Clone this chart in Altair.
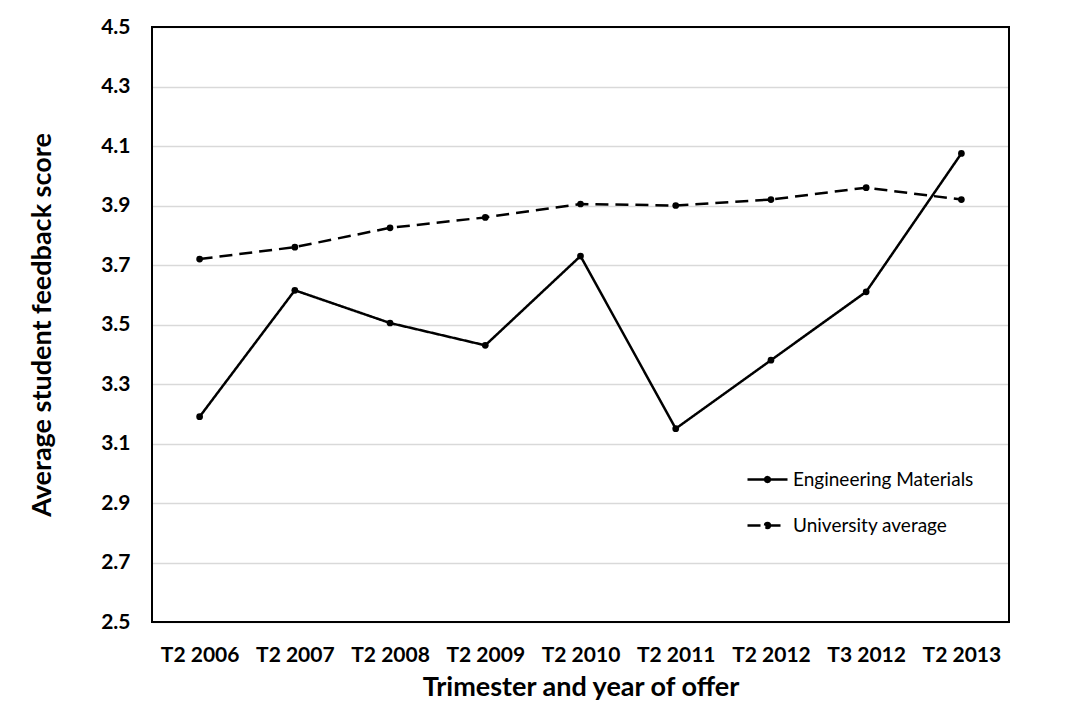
import altair as alt
import pandas as pd

categories = ["T2 2006", "T2 2007", "T2 2008", "T2 2009", "T2 2010",
              "T2 2011", "T2 2012", "T3 2012", "T2 2013"]
engineering = [3.19, 3.615, 3.505, 3.43, 3.73, 3.15, 3.38, 3.61, 4.075]
university = [3.72, 3.76, 3.825, 3.86, 3.905, 3.90, 3.92, 3.96, 3.92]
series_names = ["Engineering Materials", "University average"]

rows = []
for c, v in zip(categories, engineering):
    rows.append({"term": c, "score": v, "series": series_names[0]})
for c, v in zip(categories, university):
    rows.append({"term": c, "score": v, "series": series_names[1]})
df = pd.DataFrame(rows)

W, H = 857, 595
FONT = "Lato"
sym = "M-1,0H1M-0.12,0A0.12,0.12 0 1,1 0.12,0A0.12,0.12 0 1,1 -0.12,0Z"

x = alt.X("term:N", sort=categories, scale=alt.Scale(paddingOuter=0.5),
          axis=alt.Axis(title="Trimester and year of offer", labelAngle=0,
                        ticks=False, domain=False, grid=False,
                        labelFontSize=21, labelFontWeight="bold", labelColor="black",
                        labelPadding=22, titleFontSize=27, titleFontWeight="bold",
                        titleColor="black", titlePadding=9, labelFont=FONT, titleFont=FONT))
y = alt.Y("score:Q", scale=alt.Scale(domain=[2.5, 4.5], nice=False, zero=False),
          axis=alt.Axis(title="Average student feedback score", values=[2.5, 2.7, 2.9, 3.1, 3.3, 3.5, 3.7, 3.9, 4.1, 4.3, 4.5],
                        format=".1f", ticks=False, domain=False, gridColor="#d9d9d9",
                        gridWidth=1.5, labelFontSize=21, labelFontWeight="bold",
                        labelColor="black", labelPadding=22, titleFontSize=27,
                        titleFontWeight="bold", titleColor="black", titlePadding=44,
                        labelFont=FONT, titleFont=FONT))

dash = alt.StrokeDash("series:N", scale=alt.Scale(domain=series_names, range=[[1, 0], [13, 7]]),
                      legend=alt.Legend(title=None, orient="none", legendX=594, legendY=431,
                                        symbolType=sym, symbolSize=1600, symbolStrokeWidth=2.5,
                                        symbolStrokeColor="black", symbolFillColor="black",
                                        labelFontSize=19, labelFont=FONT, labelColor="black",
                                        labelLimit=400, rowPadding=14, labelOffset=4))

lines = alt.Chart(df).mark_line(color="black", strokeWidth=2.5).encode(x=x, y=y, strokeDash=dash)
pts = alt.Chart(df).mark_point(filled=True, color="black", size=45, opacity=1).encode(
    x=x, y=y, detail="series:N")

frame = alt.Chart(df).mark_rect(filled=False, stroke="black", strokeWidth=1.8).encode(
    x=alt.value(0), x2=alt.value(W), y=alt.value(0), y2=alt.value(H))
outer_top = alt.Chart(df).mark_rule(color="#d9d9d9", strokeWidth=1.5).encode(
    x=alt.value(-145), x2=alt.value(940), y=alt.value(-22))
outer_left = alt.Chart(df).mark_rule(color="#d9d9d9", strokeWidth=1.5).encode(
    x=alt.value(-145), y=alt.value(-22), y2=alt.value(690))

chart = alt.layer(outer_top, outer_left, lines, pts, frame).properties(
    width=W, height=H,
    background="white",
    autosize=alt.AutoSizeParams(type="none"),
    padding={"left": 144, "top": 19, "right": 70, "bottom": 82},
).configure_view(strokeWidth=0)

chart.save("out.html", embed_options={"renderer": "svg", "actions": False})
